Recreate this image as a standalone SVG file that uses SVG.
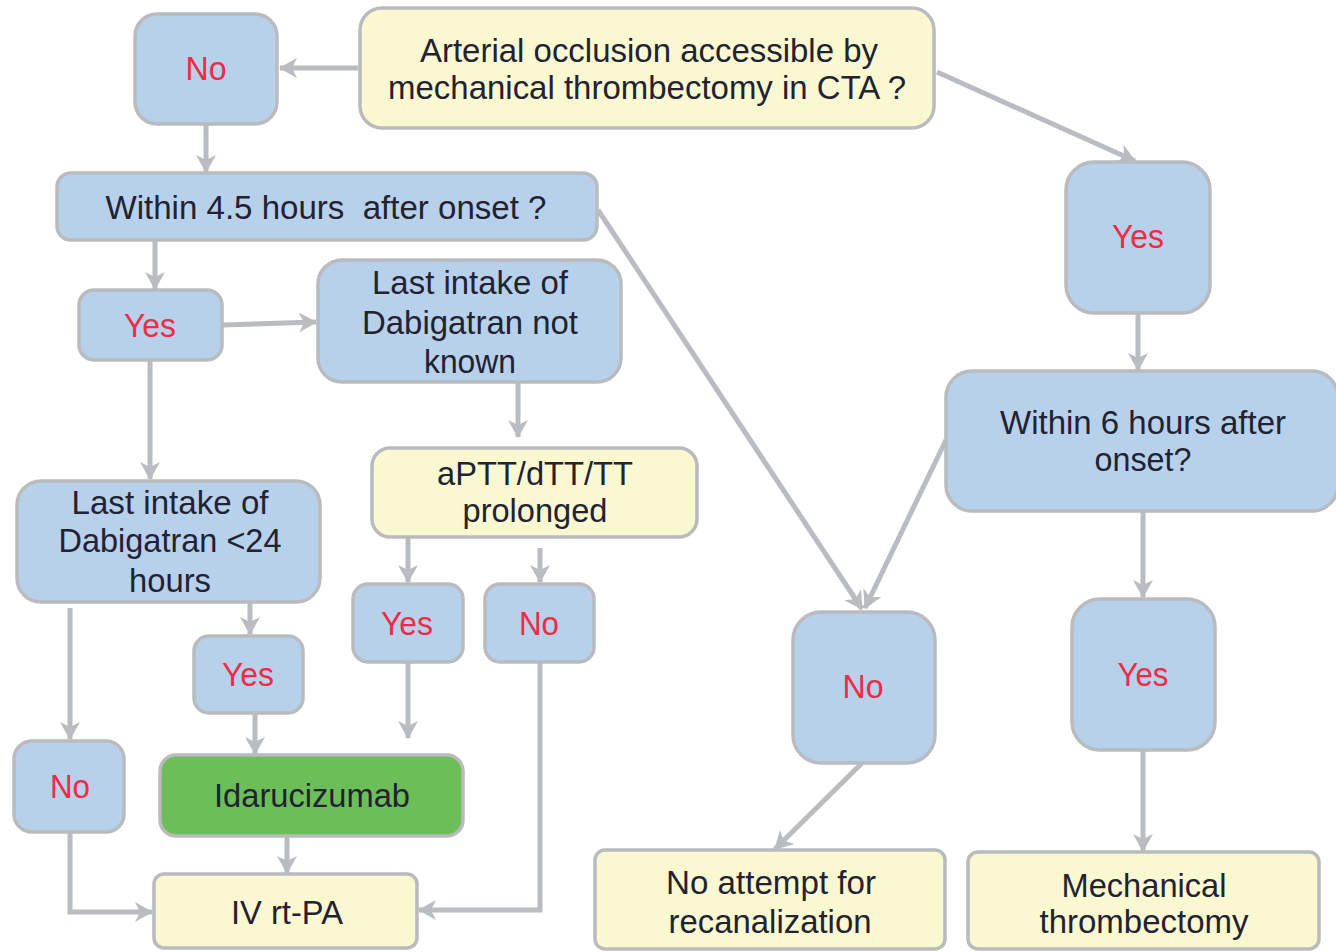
<svg xmlns="http://www.w3.org/2000/svg" width="1336" height="952" viewBox="0 0 1336 952">
<style>
.b{fill:#b8d1eb;stroke:#b9bbbf;stroke-width:3.5}
.y{fill:#faf8d0;stroke:#b9bbbf;stroke-width:3.5}
.g{fill:#6cbf58;stroke:#b9bbbf;stroke-width:3.5}
text{font-family:"Liberation Sans",Arial,sans-serif;font-size:33px;text-anchor:middle;fill:#222233;white-space:pre}
.r{fill:#ee2b47}
.c path,.c line,.c polyline{stroke:#b9bcc0;stroke-width:5;fill:none;marker-end:url(#ah)}
</style>
<defs>
<marker id="ah" viewBox="0 0 18 20" refX="17" refY="10" markerWidth="18" markerHeight="20" markerUnits="userSpaceOnUse" orient="auto">
<path d="M0,0 L18,10 L0,20 L5,10 z" fill="#b9bcc0"/>
</marker>
</defs>
<rect width="1336" height="952" fill="#ffffff"/>
<g class="c">
<line x1="358" y1="68" x2="280" y2="68"/>
<line x1="206" y1="124" x2="206" y2="172"/>
<line x1="937" y1="72" x2="1135" y2="161"/>
<line x1="155" y1="241" x2="155" y2="289"/>
<line x1="223" y1="325" x2="316" y2="322"/>
<line x1="150" y1="360" x2="150" y2="479"/>
<line x1="518" y1="383" x2="518" y2="437"/>
<line x1="408" y1="538" x2="408" y2="582"/>
<line x1="540" y1="548" x2="540" y2="582"/>
<line x1="250" y1="602" x2="250" y2="634"/>
<line x1="70" y1="608" x2="70" y2="739"/>
<line x1="255" y1="713" x2="255" y2="754"/>
<line x1="408" y1="662" x2="408" y2="738"/>
<line x1="287" y1="837" x2="287" y2="873"/>
<polyline points="70,832 70,912 152,912"/>
<polyline points="540,662 540,910 419,910"/>
<line x1="598" y1="210" x2="862" y2="609"/>
<line x1="946" y1="440" x2="865" y2="608"/>
<line x1="1138" y1="313" x2="1138" y2="370"/>
<line x1="1143" y1="512" x2="1143" y2="597"/>
<line x1="862" y1="763" x2="775" y2="849"/>
<line x1="1143" y1="750" x2="1143" y2="851"/>
</g>
<g id="q1"><rect class="y" x="360" y="8" width="574" height="120" rx="22"/>
<text x="649" y="62" textLength="458" lengthAdjust="spacingAndGlyphs">Arterial occlusion accessible by</text>
<text x="647" y="99" textLength="518" lengthAdjust="spacingAndGlyphs">mechanical thrombectomy in CTA ?</text></g>
<g id="no1"><rect class="b" x="135" y="14" width="142" height="110" rx="22"/>
<text class="r" x="206" y="80" textLength="41" lengthAdjust="spacingAndGlyphs">No</text></g>
<g id="q45"><rect class="b" x="57" y="173" width="540" height="67" rx="14"/>
<text x="326" y="219" textLength="441" lengthAdjust="spacingAndGlyphs" xml:space="preserve">Within 4.5 hours  after onset ?</text></g>
<g id="yes1"><rect class="b" x="79" y="290" width="143" height="70" rx="15"/>
<text class="r" x="150" y="337" textLength="52" lengthAdjust="spacingAndGlyphs">Yes</text></g>
<g id="nk"><rect class="b" x="318" y="260" width="303" height="122" rx="24"/>
<text x="470" y="294" textLength="196" lengthAdjust="spacingAndGlyphs">Last intake of</text>
<text x="470" y="334" textLength="216" lengthAdjust="spacingAndGlyphs">Dabigatran not</text>
<text x="470" y="373" textLength="92" lengthAdjust="spacingAndGlyphs">known</text></g>
<g id="aptt"><rect class="y" x="372" y="448" width="325" height="89" rx="18"/>
<text x="535" y="485" textLength="196" lengthAdjust="spacingAndGlyphs">aPTT/dTT/TT</text>
<text x="535" y="522" textLength="145" lengthAdjust="spacingAndGlyphs">prolonged</text></g>
<g id="lt24"><rect class="b" x="17" y="481" width="303" height="121" rx="24"/>
<text x="170" y="514" textLength="197" lengthAdjust="spacingAndGlyphs">Last intake of</text>
<text x="170" y="552" textLength="223" lengthAdjust="spacingAndGlyphs">Dabigatran &lt;24</text>
<text x="170" y="592" textLength="82" lengthAdjust="spacingAndGlyphs">hours</text></g>
<g id="yes2"><rect class="b" x="353" y="584" width="110" height="78" rx="15"/>
<text class="r" x="407" y="635" textLength="52" lengthAdjust="spacingAndGlyphs">Yes</text></g>
<g id="no2"><rect class="b" x="485" y="584" width="109" height="78" rx="15"/>
<text class="r" x="539" y="635" textLength="40" lengthAdjust="spacingAndGlyphs">No</text></g>
<g id="yes3"><rect class="b" x="194" y="636" width="109" height="77" rx="15"/>
<text class="r" x="248" y="686" textLength="52" lengthAdjust="spacingAndGlyphs">Yes</text></g>
<g id="no3"><rect class="b" x="14" y="741" width="110" height="91" rx="18"/>
<text class="r" x="70" y="798" textLength="40" lengthAdjust="spacingAndGlyphs">No</text></g>
<g id="ida"><rect class="g" x="160" y="755" width="303" height="81" rx="16"/>
<text x="312" y="807" textLength="196" lengthAdjust="spacingAndGlyphs">Idarucizumab</text></g>
<g id="iv"><rect class="y" x="154" y="874" width="263" height="74" rx="10"/>
<text x="287" y="924" textLength="112" lengthAdjust="spacingAndGlyphs">IV rt-PA</text></g>
<g id="yes4"><rect class="b" x="1066" y="162" width="144" height="151" rx="28"/>
<text class="r" x="1138" y="248" textLength="52" lengthAdjust="spacingAndGlyphs">Yes</text></g>
<g id="q6"><rect class="b" x="946" y="371" width="392" height="140" rx="26"/>
<text x="1143" y="434" textLength="286" lengthAdjust="spacingAndGlyphs">Within 6 hours after</text>
<text x="1143" y="471" textLength="97" lengthAdjust="spacingAndGlyphs">onset?</text></g>
<g id="no4"><rect class="b" x="793" y="612" width="142" height="151" rx="28"/>
<text class="r" x="863" y="698" textLength="41" lengthAdjust="spacingAndGlyphs">No</text></g>
<g id="yes5"><rect class="b" x="1072" y="599" width="143" height="151" rx="28"/>
<text class="r" x="1143" y="686" textLength="51" lengthAdjust="spacingAndGlyphs">Yes</text></g>
<g id="noat"><rect class="y" x="595" y="850" width="350" height="99" rx="10"/>
<text x="771" y="894" textLength="210" lengthAdjust="spacingAndGlyphs">No attempt for</text>
<text x="770" y="933" textLength="203" lengthAdjust="spacingAndGlyphs">recanalization</text></g>
<g id="mech"><rect class="y" x="968" y="852" width="351" height="97" rx="10"/>
<text x="1144" y="897" textLength="165" lengthAdjust="spacingAndGlyphs">Mechanical</text>
<text x="1144" y="933" textLength="209" lengthAdjust="spacingAndGlyphs">thrombectomy</text></g>
</svg>
